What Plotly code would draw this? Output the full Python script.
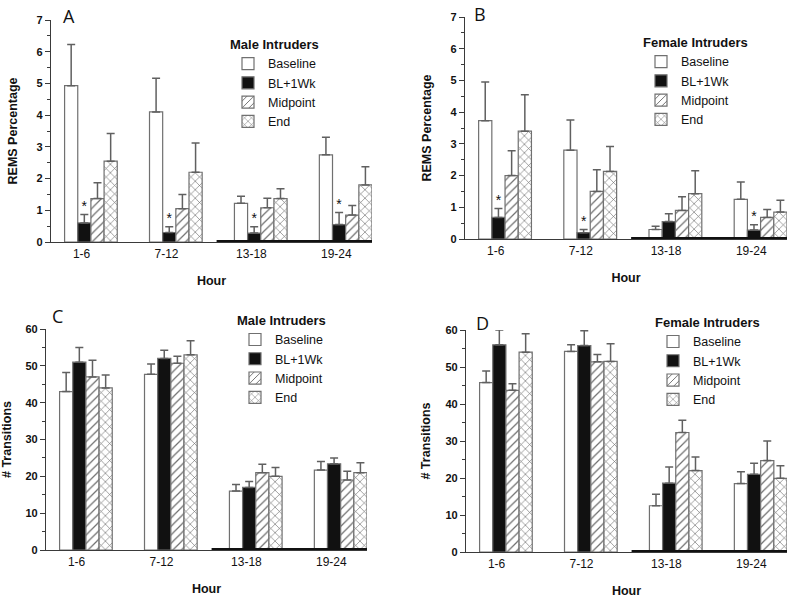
import plotly.graph_objects as go

# ---------------- data ----------------
hours = ["1-6", "7-12", "13-18", "19-24"]
series_names = ["Baseline", "BL+1Wk", "Midpoint", "End"]

# Panel A: REMS %, male intruders (mean, SEM)
a_baseline = [4.93, 4.10, 1.22, 2.75]
a_bl1wk = [0.60, 0.30, 0.28, 0.55]
a_midpoint = [1.37, 1.05, 1.08, 0.85]
a_end = [2.55, 2.20, 1.37, 1.80]
a_baseline_sem = [1.30, 1.06, 0.22, 0.55]
a_bl1wk_sem = [0.27, 0.18, 0.20, 0.38]
a_midpoint_sem = [0.50, 0.45, 0.30, 0.30]
a_end_sem = [0.87, 0.92, 0.31, 0.57]
a_stars = [0, 1, 2, 3]

# Panel B: REMS %, female intruders
b_baseline = [3.73, 2.80, 0.30, 1.25]
b_bl1wk = [0.68, 0.20, 0.55, 0.28]
b_midpoint = [2.00, 1.50, 0.90, 0.68]
b_end = [3.40, 2.13, 1.43, 0.85]
b_baseline_sem = [1.22, 0.95, 0.10, 0.55]
b_bl1wk_sem = [0.28, 0.10, 0.25, 0.17]
b_midpoint_sem = [0.78, 0.68, 0.43, 0.25]
b_end_sem = [1.15, 0.79, 0.72, 0.37]
b_stars = [0, 1, 3]

# Panel C: # transitions, male intruders
c_baseline = [43.0, 47.7, 16.0, 21.7]
c_bl1wk = [51.0, 52.0, 17.0, 23.4]
c_midpoint = [47.0, 50.7, 21.0, 19.0]
c_end = [44.0, 53.0, 20.0, 21.0]
c_baseline_sem = [5.2, 2.8, 1.8, 2.3]
c_bl1wk_sem = [4.0, 2.2, 1.6, 1.6]
c_midpoint_sem = [4.5, 1.9, 2.3, 2.4]
c_end_sem = [3.5, 3.8, 2.4, 2.7]
c_stars = []

# Panel D: # transitions, female intruders
d_baseline = [45.8, 54.2, 12.5, 18.5]
d_bl1wk = [56.0, 55.8, 18.6, 21.0]
d_midpoint = [43.7, 51.4, 32.3, 24.7]
d_end = [54.0, 51.5, 22.0, 19.9]
d_baseline_sem = [3.1, 1.8, 3.1, 3.2]
d_bl1wk_sem = [4.0, 4.0, 4.4, 3.0]
d_midpoint_sem = [1.8, 2.0, 3.3, 5.3]
d_end_sem = [5.0, 4.8, 3.7, 3.4]
d_stars = []

dark_phase_start = 1.48  # dark-period bar begins between 7-12 and 13-18

# ---------------- styling ----------------
FONT = "Arial"
EDGE = "#707070"
AXIS = "#3a3a3a"
BARGAP = 0.38
X_RANGE = [-0.47, 3.31]

styles = [
    dict(color="white", pattern=None),
    dict(color="#111111", pattern=None),
    dict(color="white", pattern=dict(shape="/", fgcolor="#6e6e6e", bgcolor="white", size=6, solidity=0.2)),
    dict(color="white", pattern=dict(shape="x", fgcolor="#6e6e6e", bgcolor="white", size=6, solidity=0.2)),
]

panels = [
    dict(letter="A", legend_title="Male Intruders", ytitle="REMS Percentage",
         means=[a_baseline, a_bl1wk, a_midpoint, a_end],
         sems=[a_baseline_sem, a_bl1wk_sem, a_midpoint_sem, a_end_sem],
         stars=a_stars, ymax=7, dtick=1, minor=0.5,
         xdom=[51, 372], ydom=[242, 20], letter_pos=(69, 2), legend_pos=(228, 32), ystand=16),
    dict(letter="B", legend_title="Female Intruders", ytitle="REMS Percentage",
         means=[b_baseline, b_bl1wk, b_midpoint, b_end],
         sems=[b_baseline_sem, b_bl1wk_sem, b_midpoint_sem, b_end_sem],
         stars=b_stars, ymax=7, dtick=1, minor=0.5,
         xdom=[465, 787], ydom=[239, 17], letter_pos=(480, 0), legend_pos=(641, 30), ystand=16),
    dict(letter="C", legend_title="Male Intruders", ytitle="# Transitions",
         means=[c_baseline, c_bl1wk, c_midpoint, c_end],
         sems=[c_baseline_sem, c_bl1wk_sem, c_midpoint_sem, c_end_sem],
         stars=c_stars, ymax=60, dtick=10, minor=5,
         xdom=[46, 367], ydom=[550, 329], letter_pos=(57, 302), legend_pos=(235, 308), ystand=12),
    dict(letter="D", legend_title="Female Intruders", ytitle="# Transitions",
         means=[d_baseline, d_bl1wk, d_midpoint, d_end],
         sems=[d_baseline_sem, d_bl1wk_sem, d_midpoint_sem, d_end_sem],
         stars=d_stars, ymax=60, dtick=10, minor=5,
         xdom=[466, 787], ydom=[552, 330], letter_pos=(482, 309), legend_pos=(653, 310), ystand=12),
]

W, H = 787, 600
x_idx = list(range(len(hours)))
group_w = 1 - BARGAP
bar_w = group_w / len(series_names)
bl_offset = -group_w / 2 + bar_w * 1.5
tick_offset = -0.11

fig = go.Figure()
layout = dict(
    template="none",
    width=W, height=H, margin=dict(l=0, r=0, t=0, b=0, autoexpand=False),
    paper_bgcolor="white", plot_bgcolor="white",
    barmode="group", bargap=BARGAP, bargroupgap=0,
    font=dict(family=FONT, size=12, color="#111"),
    annotations=[], shapes=[],
)

for p_i, p in enumerate(panels):
    n = "" if p_i == 0 else str(p_i + 1)
    xa, ya, lg = "x" + n, "y" + n, "legend" + n
    for s_i, name in enumerate(series_names):
        st = styles[s_i]
        marker = dict(color=st["color"], line=dict(color=EDGE, width=1.2))
        if st["pattern"]:
            marker["pattern"] = st["pattern"]
        fig.add_trace(go.Bar(
            x=x_idx, y=p["means"][s_i], name=name, marker=marker,
            xaxis=xa, yaxis=ya, legend=lg,
            error_y=dict(type="data", symmetric=False, array=p["sems"][s_i],
                         arrayminus=[0] * len(hours), color="#606060", thickness=1.5, width=4),
        ))
    if p["stars"]:
        bl_means, bl_sems = p["means"][1], p["sems"][1]
        fig.add_trace(go.Scatter(
            x=[i + bl_offset for i in p["stars"]],
            y=[bl_means[i] + bl_sems[i] for i in p["stars"]],
            mode="text", text=["*"] * len(p["stars"]), textposition="top center",
            textfont=dict(size=14, family=FONT, color="#111"),
            xaxis=xa, yaxis=ya, showlegend=False, hoverinfo="skip", cliponaxis=False,
        ))
    x0, x1 = p["xdom"]
    yb, yt = p["ydom"]
    layout["xaxis" + n] = dict(
        domain=[x0 / W, x1 / W], anchor=ya, range=X_RANGE, automargin=False,
        tickvals=[i + tick_offset for i in x_idx], ticktext=hours, ticks="",
        showline=True, linecolor=AXIS, linewidth=1.3, showgrid=False, zeroline=False,
        tickfont=dict(size=12, family=FONT, color="#111"),
        title=dict(text="<b>Hour</b>", font=dict(size=12.5, family=FONT), standoff=16),
    )
    layout["yaxis" + n] = dict(
        domain=[1 - yb / H, 1 - yt / H], anchor=xa, range=[0, p["ymax"]], automargin=False,
        dtick=p["dtick"], tick0=0, ticks="outside", ticklen=5, tickwidth=1.2, tickcolor=AXIS,
        minor=dict(dtick=p["minor"], ticks="outside", ticklen=3, tickwidth=1, tickcolor=AXIS),
        showline=True, linecolor=AXIS, linewidth=1.3, showgrid=False, zeroline=False,
        tickfont=dict(size=11, family=FONT, color="#111", weight="bold"),
        title=dict(text="<b>" + p["ytitle"] + "</b>", font=dict(size=12.5, family=FONT), standoff=p["ystand"]),
    )
    lx, ly = p["legend_pos"]
    layout[lg] = dict(
        x=lx / W, y=1 - ly / H, xanchor="left", yanchor="top",
        bgcolor="rgba(0,0,0,0)", borderwidth=0,
        title=dict(text="<b>" + p["legend_title"] + "</b>", side="top", font=dict(size=13, family=FONT)),
        font=dict(size=12.5, family=FONT, color="#111"), tracegroupgap=0,
        itemwidth=30,
    )
    # dark-phase bar along the x axis
    layout["shapes"].append(dict(
        type="line", xref=xa, yref=ya, x0=dark_phase_start, x1=X_RANGE[1], y0=0, y1=0,
        line=dict(color="#111", width=4), layer="above",
    ))
    lxp, lyp = p["letter_pos"]
    layout["annotations"].append(dict(
        text=p["letter"], xref="paper", yref="paper", x=lxp / W, y=1 - lyp / H,
        xanchor="center", yanchor="top", showarrow=False,
        font=dict(size=18, family="Open Sans", color="#111"),
    ))

fig.update_layout(**layout)
fig.write_html(
    "out.html",
    config={"displayModeBar": False},
    post_script="document.body.style.margin='0px';document.body.style.overflow='hidden';",
)
